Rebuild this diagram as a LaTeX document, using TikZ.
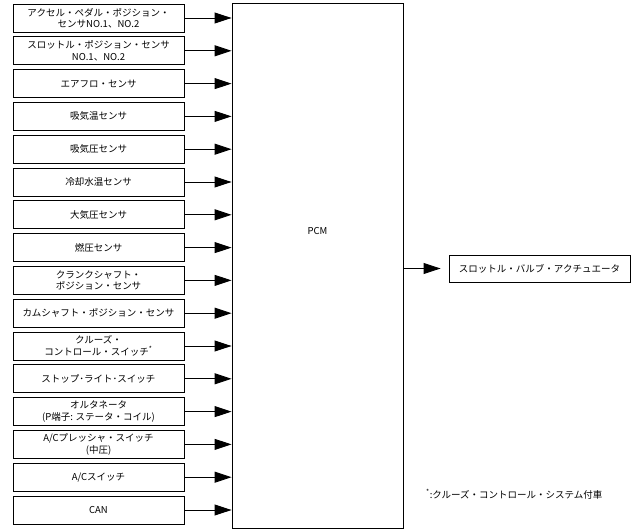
\documentclass[tikz,border=0pt]{standalone}
\usepackage{fontspec}
\setmainfont{Noto Sans CJK JP}
\usetikzlibrary{arrows.meta}

\begin{document}
\begin{tikzpicture}[x=1pt, y=-1pt,
      sensor/.style={rectangle, draw, line width=0.9pt, minimum width=171pt, minimum height=28pt, align=center, inner sep=1pt, font=\fontsize{9.5}{11.5}\selectfont},
      ecu/.style={rectangle, draw, line width=0.9pt, minimum width=171pt, minimum height=525pt},
      actuator/.style={rectangle, draw, line width=0.9pt, minimum width=181pt, minimum height=27pt, inner sep=1pt, font=\fontsize{9.5}{11.5}\selectfont},
      sig/.style={-{Triangle[length=17pt,width=11pt]}, line width=0.9pt}]

      \useasboundingbox (0,0) rectangle (632,532);

      % Inputs
      \node[sensor] (app) at (98.5,18) {アクセル・ペダル・ポジション・\\センサNO.1、NO.2};
      \node[sensor] (tps) at (98.5,50.8) {スロットル・ポジション・センサ\\NO.1、NO.2};
      \node[sensor] (maf) at (98.5,83.6) {エアフロ・センサ};
      \node[sensor] (iat) at (98.5,116.4) {吸気温センサ};
      \node[sensor] (map) at (98.5,149.2) {吸気圧センサ};
      \node[sensor] (ect) at (98.5,182) {冷却水温センサ};
      \node[sensor] (baro) at (98.5,214.8) {大気圧センサ};
      \node[sensor] (fuel) at (98.5,247.6) {燃圧センサ};
      \node[sensor] (ckp) at (98.5,280.4) {クランクシャフト・\\ポジション・センサ};
      \node[sensor] (cmp) at (98.5,313.2) {カムシャフト・ポジション・センサ};
      \node[sensor] (cruise) at (98.5,346) {クルーズ・\\コントロール・スイッチ\textsuperscript{*}};
      \node[sensor] (stop) at (98.5,378.8) {ストップ･ライト･スイッチ};
      \node[sensor] (alt) at (98.5,411.6) {オルタネータ\\(P端子: ステータ・コイル)};
      \node[sensor] (acp) at (98.5,444.4) {A/Cプレッシャ・スイッチ\\(中圧)};
      \node[sensor] (acsw) at (98.5,477.2) {A/Cスイッチ};
      \node[sensor] (can) at (98.5,510) {CAN};

      % ECU and output
      \node[ecu, label={[yshift=34pt, font=\fontsize{9.5}{11.5}\selectfont]center:PCM}] (pcm) at (317.5,265.5) {};
      \node[actuator] (etc) at (539.5,268.5) {スロットル・バルブ・アクチュエータ};

      % Arrows
      \foreach \n in {app,tps,maf,iat,map,ect,baro,fuel,ckp,cmp,cruise,stop,alt,acp,acsw,can} {
        \draw[sig] (\n.east) -- (\n.east -| pcm.west);
      }
      \draw[sig, shorten >=8pt] (pcm.east |- etc.west) -- (etc.west);

      % Note
      \node[anchor=west, inner sep=0pt, font=\fontsize{9.5}{11.5}\selectfont] (note) at (426,494) {\textsuperscript{*}:クルーズ・コントロール・システム付車};
    \end{tikzpicture}
\end{document}
